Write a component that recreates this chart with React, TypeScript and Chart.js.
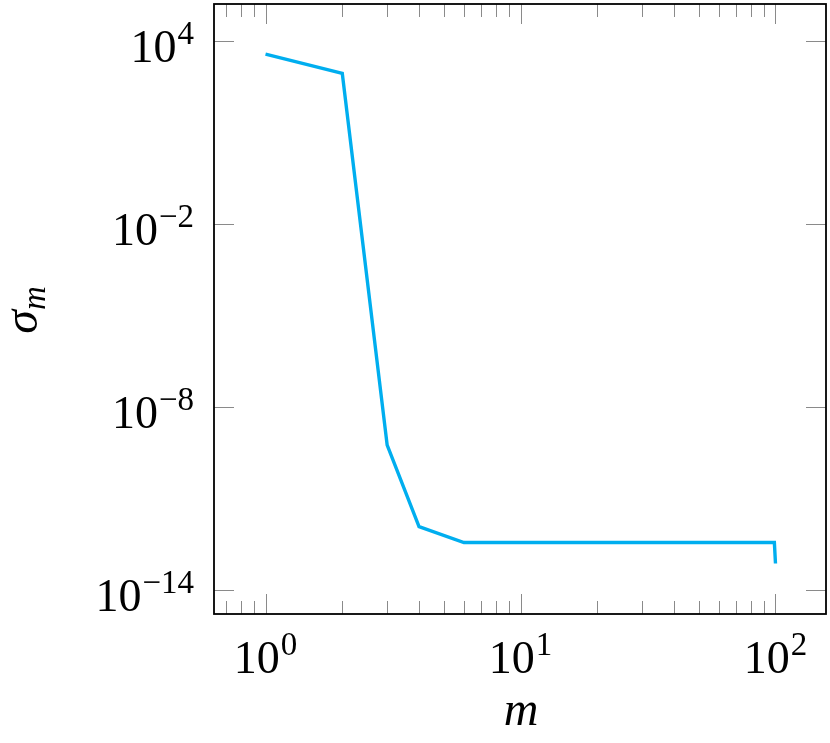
import React, { useEffect, useRef } from "react";
import { Chart, registerables } from "chart.js";

Chart.register(...registerables);

// ---- data ----
const mValues = [1, 2, 3, 4, 6, 99, 100];
const sigmaValues = [3.6e3, 8.5e2, 5.6e-10, 1.2e-12, 3.6e-13, 3.6e-13, 7.4e-14];

// ---- axes ----
const xMajorTicks = [1, 10, 100];
const xTickExponents = ["0", "1", "2"];
const xMinorTicks = [0.7, 0.8, 0.9, 2, 3, 4, 5, 6, 7, 8, 9, 20, 30, 40, 50, 60, 70, 80, 90];
const yMajorTicks = [1e4, 1e-2, 1e-8, 1e-14];
const yTickExponents = ["4", "\u22122", "\u22128", "\u221214"];
const X_MIN = 0.628;
const X_MAX = 157.8;
const Y_MIN = 1.64e-15;
const Y_MAX = 1.59e5;

const FONT = '"Liberation Serif", "Times New Roman", serif';
const MAIN_SIZE = 46;
const SUP_SIZE = 33;

const axisPlugin = {
  id: "pgfAxis",
  afterDraw(chart: any) {
    const { ctx, chartArea, scales } = chart;
    const { left, right, top, bottom } = chartArea;
    const xs = scales.x;
    const ys = scales.y;
    ctx.save();

    // tick marks (inward, both sides)
    ctx.strokeStyle = "#8a8a8a";
    ctx.lineWidth = 1;
    const vTick = (v: number, len: number) => {
      const px = Math.round(xs.getPixelForValue(v)) + 0.5;
      ctx.beginPath();
      ctx.moveTo(px, bottom);
      ctx.lineTo(px, bottom - len);
      ctx.moveTo(px, top);
      ctx.lineTo(px, top + len);
      ctx.stroke();
    };
    xMajorTicks.forEach((v) => vTick(v, 20));
    xMinorTicks.forEach((v) => vTick(v, 13));
    yMajorTicks.forEach((v) => {
      const py = Math.round(ys.getPixelForValue(v)) + 0.5;
      ctx.beginPath();
      ctx.moveTo(left, py);
      ctx.lineTo(left + 20, py);
      ctx.moveTo(right, py);
      ctx.lineTo(right - 20, py);
      ctx.stroke();
    });

    // box
    ctx.strokeStyle = "#000";
    ctx.lineWidth = 1.8;
    ctx.strokeRect(left, top, right - left, bottom - top);

    // tick labels
    ctx.fillStyle = "#000";
    ctx.textBaseline = "alphabetic";
    ctx.textAlign = "left";
    const measure = (exp: string) => {
      ctx.font = `${MAIN_SIZE}px ${FONT}`;
      const wm = ctx.measureText("10").width;
      ctx.font = `${SUP_SIZE}px ${FONT}`;
      const ws = ctx.measureText(exp).width;
      return { wm, ws };
    };
    const drawLabel = (x0: number, baseline: number, exp: string, wm: number) => {
      ctx.font = `${MAIN_SIZE}px ${FONT}`;
      ctx.fillText("10", x0, baseline);
      ctx.font = `${SUP_SIZE}px ${FONT}`;
      ctx.fillText(exp, x0 + wm + 1, baseline - 18);
    };
    xMajorTicks.forEach((v, i) => {
      const px = xs.getPixelForValue(v);
      const { wm, ws } = measure(xTickExponents[i]);
      const total = wm + ws + 1;
      drawLabel(px - total / 2, bottom + 59, xTickExponents[i], wm);
    });
    yMajorTicks.forEach((v, i) => {
      const py = ys.getPixelForValue(v);
      const { wm, ws } = measure(yTickExponents[i]);
      const total = wm + ws + 1;
      drawLabel(left - 20 - total, py + 21, yTickExponents[i], wm);
    });

    // x title
    ctx.font = `italic ${MAIN_SIZE + 2}px ${FONT}`;
    ctx.textAlign = "center";
    ctx.fillText("m", (left + right) / 2 + 1, bottom + 111);

    // y title (rotated)
    ctx.save();
    ctx.translate(37, (top + bottom) / 2 + 1);
    ctx.rotate(-Math.PI / 2);
    ctx.textAlign = "left";
    ctx.font = `italic ${MAIN_SIZE + 2}px ${FONT}`;
    const wSigma = ctx.measureText("\u03c3").width;
    ctx.font = `italic ${SUP_SIZE}px ${FONT}`;
    const wSub = ctx.measureText("m").width;
    const start = -(wSigma + wSub) / 2;
    ctx.font = `italic ${MAIN_SIZE + 2}px ${FONT}`;
    ctx.fillText("\u03c3", start, 0);
    ctx.font = `italic ${SUP_SIZE}px ${FONT}`;
    ctx.fillText("m", start + wSigma, 8);
    ctx.restore();

    ctx.restore();
  },
};

export default function App() {
  const ref = useRef<HTMLCanvasElement | null>(null);
  useEffect(() => {
    if (!ref.current) return;
    const chart = new Chart(ref.current, {
      type: "line",
      data: {
        datasets: [
          {
            data: mValues.map((m, i) => ({ x: m, y: sigmaValues[i] })),
            borderColor: "#00aeef",
            borderWidth: 3.4,
            pointRadius: 0,
            fill: false,
            tension: 0,
          },
        ],
      },
      options: {
        responsive: false,
        animation: false,
        devicePixelRatio: 1,
        layout: { padding: { left: 214, top: 4, right: 4, bottom: 129 } },
        plugins: { legend: { display: false }, tooltip: { enabled: false } },
        scales: {
          x: { type: "logarithmic", bounds: "data", min: X_MIN, max: X_MAX, display: false },
          y: { type: "logarithmic", bounds: "data", min: Y_MIN, max: Y_MAX, display: false },
        },
      },
      plugins: [axisPlugin],
    });
    return () => chart.destroy();
  }, []);
  return (
    <div style={{ position: "absolute", left: 0, top: 0, width: 830, height: 743, background: "#fff" }}>
      <canvas ref={ref} width={830} height={743} />
    </div>
  );
}
